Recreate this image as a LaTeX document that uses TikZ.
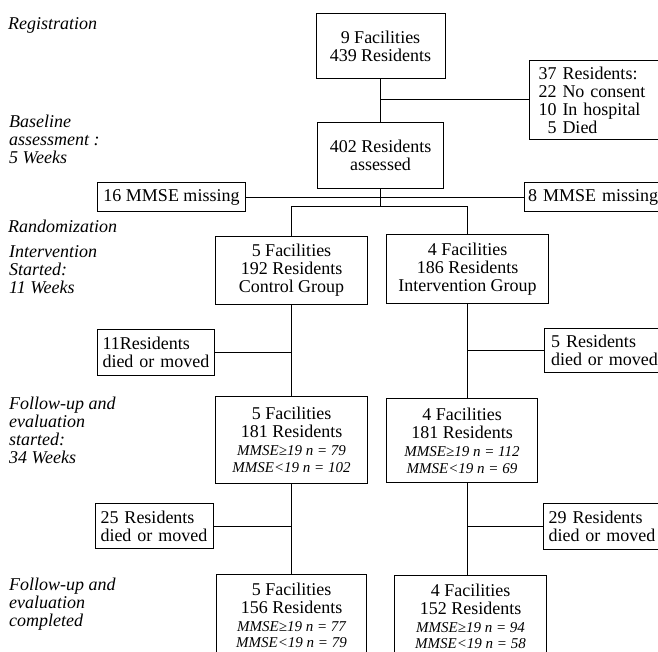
\documentclass[tikz,border=0pt]{standalone}
\usepackage{fontspec}
\setmainfont{Liberation Serif}
\newcommand\smit[1]{{\itshape\fontsize{15}{18}\selectfont #1}}
\tikzset{
  box/.style={draw, line width=1pt, inner sep=0pt, anchor=north west, align=center,
    font=\fontsize{18}{18}\selectfont},
  lbox/.style={draw, line width=1pt, inner ysep=0pt, anchor=north west, align=left,
    font=\fontsize{18}{18}\selectfont},
  lbl/.style={anchor=north west, inner sep=0pt, align=left,
    font=\itshape\fontsize{18}{18}\selectfont},
  link/.style={line width=1pt},
}
\begin{document}
\begin{tikzpicture}[x=1pt,y=-1pt]
\useasboundingbox (0,0) rectangle (658,652);
\clip (0,0) rectangle (658,652);
% left labels
\node[lbl] (l1) at (8,17) {Registration};
\node[lbl] (l2) at (9,115) {Baseline\\assessment :\\5 Weeks};
\node[lbl] (l3) at (8,220) {Randomization};
\node[lbl] (l4) at (9,245) {Intervention\\Started:\\11 Weeks};
\node[lbl] (l5) at (9,397) {Follow-up and\\evaluation\\started:\\34 Weeks};
\node[lbl] (l6) at (9,578) {Follow-up and\\evaluation\\completed};
% boxes
\node[box, minimum width=129pt, minimum height=65pt] (reg) at (315.5,13) {9 Facilities\\439 Residents};
\node[lbox, inner xsep=9pt, text width=140pt, minimum height=79pt] (excl) at (529,60)
  {37 Residents:\\22 No consent\\10 In hospital\\\hphantom{1}5 Died};
\node[box, minimum width=126pt, minimum height=66pt] (base) at (317,122) {402 Residents\\assessed};
\node[box, minimum width=148pt, minimum height=29pt] (miss16) at (97,182.5) {16 MMSE missing};
\node[lbox, inner xsep=3.5pt, text width=140pt, minimum height=29pt] (miss8) at (524,182.5) {8 MMSE missing};
\node[box, minimum width=152pt, minimum height=68pt] (ctrl) at (215,236) {5 Facilities\\192 Residents\\Control Group};
\node[box, minimum width=162pt, minimum height=69pt] (intv) at (386,234) {4 Facilities\\186 Residents\\Intervention Group};
\node[lbox, inner xsep=5pt, text width=107pt, minimum height=46pt] (died11) at (97,329) {11Residents\\died or moved};
\node[lbox, inner xsep=6.5pt, text width=130pt, minimum height=44pt] (died5) at (544,328) {5 Residents\\died or moved};
\node[box, minimum width=152pt, minimum height=87pt] (ctrlF) at (215,396)
  {5 Facilities\\181 Residents\\\smit{MMSE≥19 n = 79}\\[-1pt]\smit{MMSE<19 n = 102}};
\node[box, minimum width=151pt, minimum height=84pt] (intvF) at (386,398)
  {4 Facilities\\181 Residents\\\smit{MMSE≥19 n = 112}\\[-1pt]\smit{MMSE<19 n = 69}};
\node[lbox, inner xsep=5pt, text width=108pt, minimum height=45pt] (died25) at (95,503) {25 Residents\\died or moved};
\node[lbox, inner xsep=5pt, text width=130pt, minimum height=46pt] (died29) at (543,503) {29 Residents\\died or moved};
\node[box, minimum width=150pt, inner ysep=8.5pt] (ctrlC) at (216,574)
  {5 Facilities\\156 Residents\\\smit{MMSE≥19 n = 77}\\[-1.5pt]\smit{MMSE<19 n = 79}};
\node[box, minimum width=152pt, inner ysep=8.5pt] (intvC) at (394,575)
  {4 Facilities\\152 Residents\\\smit{MMSE≥19 n = 94}\\[-1.5pt]\smit{MMSE<19 n = 58}};
% connectors
\coordinate (rb) at (380,207);
\draw[link] (reg.south) -- (base.north);
\draw[link] (excl.west) -- (excl.west -| reg.south);
\draw[link] (miss16.east) -- (miss8.west);
\draw[link] (base.south) -- (base.south |- rb);
\draw[link] (ctrl.north) -- (ctrl.north |- rb) -- (intv.north |- rb) -- (intv.north);
\draw[link] (ctrl.south) -- (ctrlF.north);
\draw[link] (died11.east) -- (died11.east -| ctrl.south);
\draw[link] (ctrlF.south) -- (ctrlF.south |- ctrlC.north);
\draw[link] (died25.east) -- (died25.east -| ctrlF.south);
\draw[link] (intv.south) -- (intv.south |- intvF.north);
\draw[link] (intv.south |- intvF.south) -- (intv.south |- intvC.north);
\draw[link] (died5.west) -- (died5.west -| intv.south);
\draw[link] (died29.west) -- (died29.west -| intv.south);
\end{tikzpicture}
\end{document}
